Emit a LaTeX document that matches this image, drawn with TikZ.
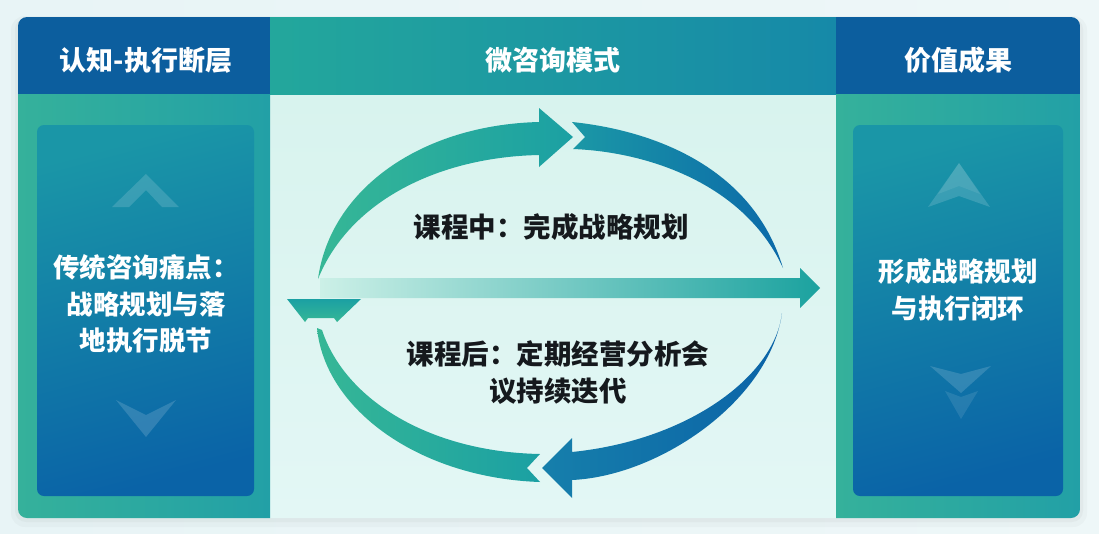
\documentclass[tikz,border=0pt]{standalone}
\usepackage{fontspec}
\newfontfamily\cjk{Noto Sans CJK SC}
\usepackage{tikz}

\definecolor{bgl}{HTML}{E8F4F6}
\definecolor{bgr}{HTML}{EEF7F8}
\definecolor{headblue}{HTML}{0C5E9E}
\definecolor{headtl}{HTML}{23A79C}
\definecolor{headtr}{HTML}{1689A8}
\definecolor{colbodyl}{HTML}{35B19B}
\definecolor{colbodyr}{HTML}{22A0A6}
\definecolor{boxtop}{HTML}{1A96A7}
\definecolor{boxbot}{HTML}{0A63A7}
\definecolor{midtop}{HTML}{D8F3EE}
\definecolor{midbot}{HTML}{E3F7F5}
\definecolor{arcgreen}{HTML}{36B796}
\definecolor{arcteal}{HTML}{1BA0A3}
\definecolor{arcteal2}{HTML}{1B98A6}
\definecolor{arcblue}{HTML}{0B69A9}
\definecolor{arcblue2}{HTML}{167FAB}
\definecolor{arcdeep}{HTML}{0B63A7}
\definecolor{shaftl}{HTML}{CCF0E7}
\definecolor{shaftr}{HTML}{1BA29F}
\definecolor{txtdark}{HTML}{15191D}

\tikzset{
  headtxt/.style={text=white, font=\cjk\bfseries\fontsize{27}{30}\selectfont, inner sep=0pt},
  boxtxt/.style={text=white, font=\cjk\bfseries\fontsize{26.5}{36.5}\selectfont, align=center, inner sep=0pt},
  midtxt/.style={text=txtdark, font=\cjk\bfseries\fontsize{27.5}{37}\selectfont, align=center, inner sep=0pt},
  chev/.style={fill=white, fill opacity=0.15},
}

\begin{document}
\begin{tikzpicture}[x=1pt,y=-1pt]
	\useasboundingbox (0,0) rectangle (1099,533);
	\shade[left color=bgl, right color=bgr] (0,0) rectangle (1099,533);

	%Skygge
	\fill[black!60, opacity=0.04, rounded corners=14pt] (11,16) rectangle (1087,527);
	\fill[black!60, opacity=0.05, rounded corners=11pt] (15,18) rectangle (1083,522);

	\begin{scope}
		\clip[rounded corners=9pt] (18,17) rectangle (1080,518);
		%Midtfelt
		\shade[top color=midtop, bottom color=midbot] (270,94) rectangle (836,518);
		\shade[left color=headtl, right color=headtr] (270,17) rectangle (836,94);
		%Sidekolonner
		\foreach \xa/\xb in {18/270, 836/1080}{
			\shade[left color=colbodyl, right color=colbodyr] (\xa,94) rectangle (\xb,518);
			\fill[headblue] (\xa,17) rectangle (\xb,94);
		}
	\end{scope}

	\foreach \xa/\xb in {37/254, 853/1063}{
		\shade[rounded corners=7pt, top color=boxtop, bottom color=boxbot, shading angle=15] (\xa,125) rectangle (\xb,496);
	}

	%Piler venstre
	\fill[chev] (112,207) -- (146,174) -- (179,207) -- (162,207) -- (146,190) -- (129,207) -- cycle;
	\fill[chev] (116,400) -- (146,415) -- (176,400) -- (146,437) -- cycle;

	%Piler hoyre
	\fill[chev] (928,207) -- (959,163) -- (990,207) -- (959,196) -- cycle;
	\fill[chev, fill opacity=0.08] (959,163) -- (980,194) -- (959,186) -- (938,194) -- cycle;
	\fill[chev] (930,366) -- (961,374) -- (991,366) -- (961,393) -- cycle;
	\fill[chev, fill opacity=0.1] (945,391) -- (961,397) -- (978,391) -- (961,419) -- cycle;

	%Bue oppe venstre
	\shade[left color=arcgreen, right color=arcteal]
		(318,279) .. controls (330,190) and (420,125) .. (539,122)
		-- (539,108) -- (573,137) -- (539,167) -- (539,155)
		.. controls (440,157) and (350,200) .. (318,279) -- cycle;

	%Bue oppe hoyre
	\shade[left color=arcteal2, right color=arcblue]
		(572,122) -- (585,137) -- (573,149)
		.. controls (650,152) and (745,185) .. (783,268)
		.. controls (752,165) and (650,130) .. (572,122) -- cycle;

	%Vannrett pil
	\shade[left color=shaftl, right color=shaftr]
		(320,278) -- (800,278) -- (800,268) -- (820,288) -- (800,308) -- (800,298) -- (320,298) -- cycle;
	\shade[top color=arcteal, bottom color=arcgreen]
		(287,299) -- (361,299) -- (337,322) -- (334,318) -- (308,318) -- (305,322) -- cycle;

	%Bue nede hoyre
	\shade[left color=arcblue2, right color=arcdeep]
		(782,313) .. controls (775,375) and (690,440) .. (572,452)
		-- (572,438) -- (542,468) -- (572,498) -- (572,480)
		.. controls (660,476) and (770,400) .. (782,313) -- cycle;

	%Bue nede venstre
	\shade[left color=arcgreen, right color=arcteal]
		(317,328) .. controls (325,410) and (420,478) .. (540,482)
		-- (527,468) -- (540,454)
		.. controls (430,452) and (345,400) .. (322,330) -- cycle;

	%Tekst
	\node[headtxt] (hleft) at (146,60) {认知-执行断层};
	\node[headtxt] (hmid) at (553,60) {微咨询模式};
	\node[headtxt] (hright) at (958,60) {价值成果};
	\node[boxtxt] (pain) at (146,304) {传统咨询痛点：\\战略规划与落\\地执行脱节};
	\node[boxtxt] (result) at (958,290) {形成战略规划\\与执行闭环};
	\node[midtxt] (during) at (551,227) {课程中：完成战略规划};
	\node[midtxt] (after) at (558,373) {课程后：定期经营分析会\\议持续迭代};
\end{tikzpicture}
\end{document}
